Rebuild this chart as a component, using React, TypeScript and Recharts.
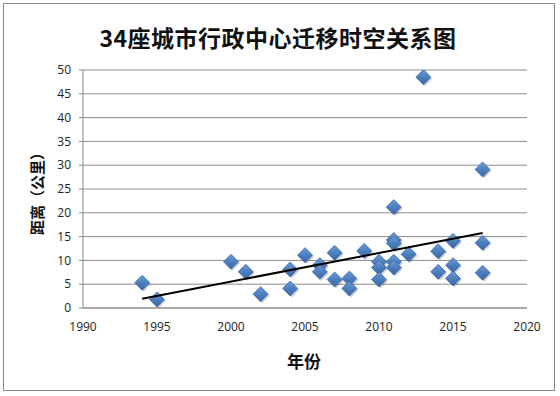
import { ScatterChart, Scatter, XAxis, YAxis, CartesianGrid } from "recharts"

// year of move and distance (km) for each city
const years = [
  1994, 1995, 2000, 2001, 2002, 2004, 2004, 2005, 2006, 2006, 2007, 2007, 2008, 2008, 2009,
  2010, 2010, 2010, 2011, 2011, 2011, 2011, 2011, 2012, 2013, 2014, 2014, 2015, 2015, 2015,
  2017, 2017, 2017,
]
const distances = [
  5.3, 1.8, 9.7, 7.6, 2.9, 8.1, 4.1, 11.1, 9.0, 7.6, 11.6, 6.0, 6.2, 4.1, 12.0,
  9.7, 8.5, 6.0, 21.2, 14.3, 13.6, 9.7, 8.5, 11.3, 48.5, 11.9, 7.6, 14.1, 9.0, 6.2,
  29.1, 13.7, 7.4,
]
const xTicks = [1990, 1995, 2000, 2005, 2010, 2015, 2020]
const yTicks = [0, 5, 10, 15, 20, 25, 30, 35, 40, 45, 50]

const points = years.map((x, i) => ({ x, y: distances[i] }))

// linear trend line (least squares), drawn over the year range of the data
function trendLine() {
  const n = points.length
  const mx = points.reduce((s, p) => s + p.x, 0) / n
  const my = points.reduce((s, p) => s + p.y, 0) / n
  let sxy = 0
  let sxx = 0
  points.forEach((p) => {
    sxy += (p.x - mx) * (p.y - my)
    sxx += (p.x - mx) * (p.x - mx)
  })
  const k = sxy / sxx
  const x0 = Math.min(...years)
  const x1 = Math.max(...years)
  return [
    { x: x0, y: my + k * (x0 - mx) },
    { x: x1, y: my + k * (x1 - mx) },
  ]
}
const trend = trendLine()

const font = "'Open Sans', 'Noto Sans', sans-serif"
const cjk = "'Noto Sans CJK SC', sans-serif"

function Diamond(props: any) {
  const { cx, cy } = props
  if (cx == null || cy == null) return <g />
  const r = 7.5
  const pts = (dx: number, dy: number) =>
    `${cx + dx},${cy + dy - r} ${cx + dx + r},${cy + dy} ${cx + dx},${cy + dy + r} ${cx + dx - r},${cy + dy}`
  return (
    <g>
      <defs>
        <linearGradient id="dmd" x1="0" y1="0" x2="0" y2="1">
          <stop offset="0%" stopColor="#6b9bd6" />
          <stop offset="55%" stopColor="#4a7dbd" />
          <stop offset="100%" stopColor="#3a66a0" />
        </linearGradient>
      </defs>
      <polygon points={pts(1.5, 1.5)} fill="#000" fillOpacity={0.18} />
      <polygon points={pts(0, 0)} fill="url(#dmd)" stroke="#3d6aa5" strokeWidth={0.8} />
    </g>
  )
}

export default function App() {
  return (
    <div style={{ position: "absolute", left: 0, top: 0, width: 560, height: 396, background: "#fff" }}>
      <div
        style={{
          position: "absolute",
          left: 3,
          top: 3,
          width: 550,
          height: 386,
          border: "1px solid #8a8a8a",
        }}
      />
      <div
        style={{
          position: "absolute",
          left: 0,
          top: 22,
          width: 556,
          textAlign: "center",
          fontFamily: cjk,
          fontWeight: 700,
          fontSize: 23,
          letterSpacing: 0.5,
          lineHeight: "30px",
          color: "#111",
        }}
      >
        34座城市行政中心迁移时空关系图
      </div>
      <div
        style={{
          position: "absolute",
          left: 36,
          top: 190,
          transform: "translate(-50%, -50%) rotate(-90deg)",
          whiteSpace: "nowrap",
          fontFamily: cjk,
          fontWeight: 700,
          fontSize: 15,
          color: "#111",
        }}
      >
        距离（公里）
      </div>
      <div
        style={{
          position: "absolute",
          left: 304,
          top: 360,
          transform: "translate(-50%, -50%)",
          whiteSpace: "nowrap",
          fontFamily: cjk,
          fontWeight: 700,
          fontSize: 17,
          color: "#111",
        }}
      >
        年份
      </div>
      <div style={{ position: "absolute", left: 0, top: 0 }}>
        <ScatterChart width={560} height={396} margin={{ top: 70, right: 33, bottom: 58, left: 33 }}>
          <CartesianGrid vertical={false} stroke="#8c8c8c" strokeWidth={1} />
          <XAxis
            type="number"
            dataKey="x"
            domain={[1990, 2020]}
            ticks={xTicks}
            allowDataOverflow
            height={30}
            axisLine={{ stroke: "#8c8c8c" }}
            tickLine={false}
            tickMargin={8}
            tick={{ fill: "#222", fontSize: 12, fontFamily: font }}
          />
          <YAxis
            type="number"
            dataKey="y"
            domain={[0, 50]}
            ticks={yTicks}
            allowDataOverflow
            width={50}
            axisLine={{ stroke: "#8c8c8c" }}
            tickLine={{ stroke: "#8c8c8c" }}
            tickSize={4}
            tickMargin={8}
            tick={{ fill: "#222", fontSize: 12, fontFamily: font }}
          />
          <Scatter data={points} shape={Diamond} isAnimationActive={false} />
          <Scatter
            data={trend}
            line={{ stroke: "#000", strokeWidth: 2 }}
            shape={() => <g />}
            isAnimationActive={false}
          />
        </ScatterChart>
      </div>
    </div>
  )
}
